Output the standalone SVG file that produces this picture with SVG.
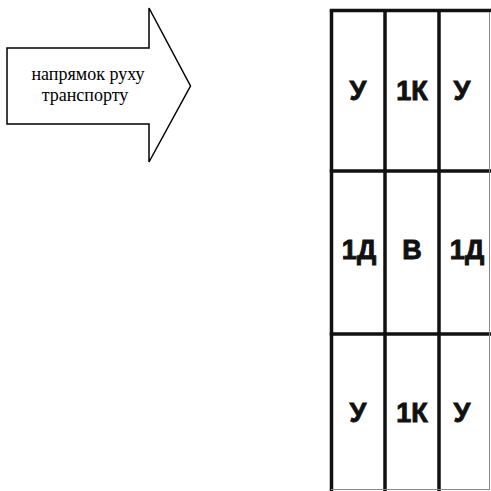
<svg xmlns="http://www.w3.org/2000/svg" width="491" height="491" viewBox="0 0 491 491">
<style>
.arrow{fill:#fff;stroke:#000;stroke-width:1.5;stroke-linejoin:miter}
.lbl{font-family:"Liberation Serif","Times New Roman",serif;font-size:18px;fill:#000;text-anchor:middle}
.cell{font-family:"Liberation Sans",Arial,sans-serif;font-weight:bold;font-size:27px;fill:#111;stroke:#111;stroke-width:0.9;text-anchor:middle}
.grid{stroke:#111;stroke-width:3.5;fill:none}
.edge{stroke:#888;stroke-width:1;fill:none}
</style>
<rect width="491" height="491" fill="#fff"/>
<g id="direction-arrow">
<polygon class="arrow" points="7,48 149,48 149,8 190.5,86 149,162 149,124 7,124"/>
<text class="lbl" x="88" y="80">напрямок руху</text>
<text class="lbl" x="85" y="101">транспорту</text>
</g>
<g id="grid-lines">
<line class="grid" x1="331.5" y1="10.5" x2="331.5" y2="491"/>
<line class="grid" x1="385" y1="10.5" x2="385" y2="491"/>
<line class="grid" x1="439" y1="10.5" x2="439" y2="491"/>
<line class="grid" x1="329.75" y1="10.5" x2="491" y2="10.5"/>
<line class="grid" x1="329.75" y1="171" x2="491" y2="171"/>
<line class="grid" x1="329.75" y1="334" x2="491" y2="334"/>
<line class="edge" x1="489.5" y1="12" x2="489.5" y2="490"/>
<line class="edge" x1="331" y1="489.5" x2="490" y2="489.5"/>
</g>
<g id="cell-r1c1"><text class="cell" x="358" y="100">У</text></g>
<g id="cell-r1c2"><text class="cell" x="412" y="100">1К</text></g>
<g id="cell-r1c3"><text class="cell" x="462" y="100">У</text></g>
<g id="cell-r2c1"><text class="cell" x="359" y="259">1Д</text></g>
<g id="cell-r2c2"><text class="cell" x="412" y="259">В</text></g>
<g id="cell-r2c3"><text class="cell" x="467" y="259">1Д</text></g>
<g id="cell-r3c1"><text class="cell" x="358" y="422">У</text></g>
<g id="cell-r3c2"><text class="cell" x="412" y="422">1К</text></g>
<g id="cell-r3c3"><text class="cell" x="462" y="422">У</text></g>
</svg>
